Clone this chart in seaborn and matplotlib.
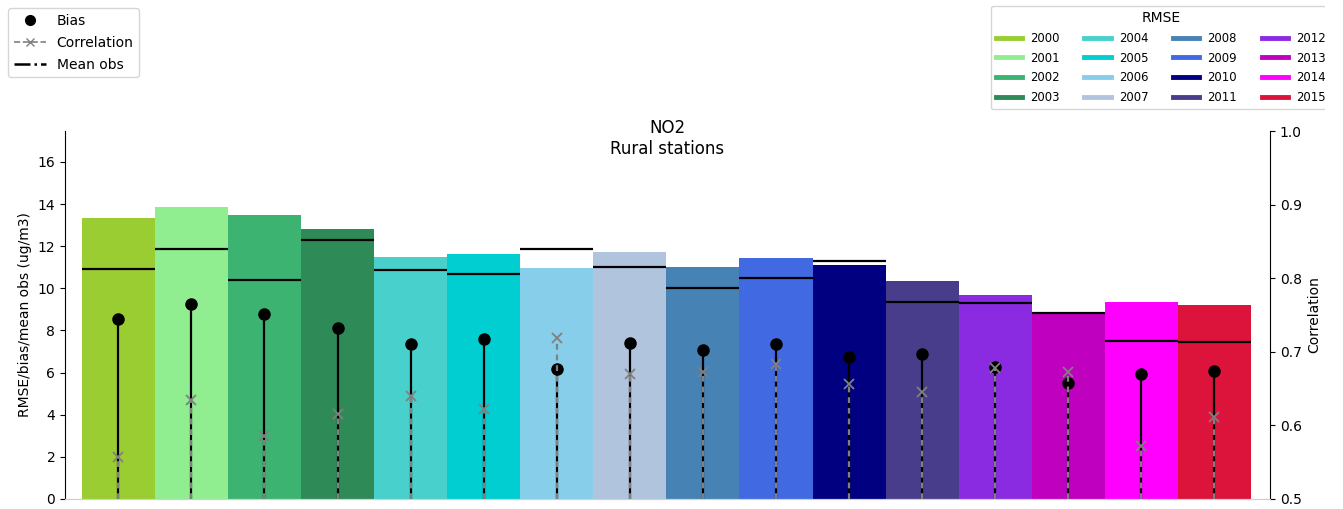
import numpy as np
import pandas as pd
import matplotlib
matplotlib.use("Agg")
import matplotlib.pyplot as plt
from matplotlib.lines import Line2D
from matplotlib.patches import Rectangle
import seaborn as sns

# Annual statistics, NO2 at rural stations
years = ["2000", "2001", "2002", "2003", "2004", "2005", "2006", "2007",
         "2008", "2009", "2010", "2011", "2012", "2013", "2014", "2015"]
rmse = [13.33, 13.84, 13.49, 12.80, 11.50, 11.65, 10.96, 11.74,
        10.99, 11.45, 11.10, 10.36, 9.70, 8.84, 9.36, 9.21]
bias = [8.55, 9.24, 8.80, 8.10, 7.35, 7.61, 6.16, 7.41,
        7.06, 7.36, 6.76, 6.87, 6.25, 5.52, 5.92, 6.06]
mean_obs = [10.91, 11.87, 10.41, 12.31, 10.86, 10.67, 11.87, 11.02,
            10.02, 10.51, 11.32, 9.37, 9.32, 8.82, 7.48, 7.44]
correlation = [0.557, 0.635, 0.585, 0.616, 0.640, 0.622, 0.719, 0.670,
               0.672, 0.683, 0.656, 0.646, 0.678, 0.672, 0.572, 0.612]
year_colors = ["yellowgreen", "lightgreen", "mediumseagreen", "seagreen",
               "mediumturquoise", "darkturquoise", "skyblue", "lightsteelblue",
               "steelblue", "royalblue", "navy", "darkslateblue",
               "blueviolet", "m", "magenta", "crimson"]

df = pd.DataFrame({"year": years, "rmse": rmse, "bias": bias,
                   "mean_obs": mean_obs, "corr": correlation})
pos = np.arange(len(df))

fig = plt.figure(figsize=(13.43, 5.09), dpi=100)
ax = fig.add_axes([65 / 1343, 1 - 499 / 509, (1270 - 65) / 1343, (499 - 131) / 509])

# RMSE bars, one colour per year
sns.barplot(data=df, x="year", y="rmse", hue="year", palette=year_colors,
            width=1.0, linewidth=0, legend=False, ax=ax, saturation=1)

# mean observation per year
ax.hlines(df["mean_obs"], pos - 0.5, pos + 0.5, colors="black", lw=1.6, zorder=3)

# bias stems
ax.vlines(pos, 0, df["bias"], colors="black", lw=1.6, zorder=3)
ax.plot(pos, df["bias"], "o", color="black", ms=8, zorder=4)

ax.set_xlim(-0.73, 15.76)
ax.set_ylim(0, 17.47)
ax.set_yticks([0, 2, 4, 6, 8, 10, 12, 14, 16])
ax.set_xticks([])
ax.set_xlabel("")
ax.set_ylabel("RMSE/bias/mean obs (ug/m3)", fontsize=10)
ax.spines["top"].set_visible(False)
ax.spines["right"].set_visible(False)
ax.spines["bottom"].set_color("#d0d0d0")

# correlation on secondary axis
ax2 = ax.twinx()
ax2.vlines(pos, 0.5, df["corr"], colors="gray", lw=1.6, linestyles=(0, (2.6, 2.2)), zorder=3)
ax2.plot(pos, df["corr"], "x", color="gray", ms=7, mew=1.3, zorder=4)
ax2.set_ylim(0.5, 1.0)
ax2.set_yticks([0.5, 0.6, 0.7, 0.8, 0.9, 1.0])
ax2.set_ylabel("Correlation", fontsize=10)
ax2.spines["top"].set_visible(False)
ax2.spines["left"].set_visible(False)
ax2.spines["bottom"].set_color("#d0d0d0")

ax.text(0.5, 0.98, "NO2\nRural stations", transform=ax.transAxes,
        ha="center", va="center", fontsize=12)

# metric legend (upper left)
metric_handles = [
    Line2D([], [], marker="o", color="black", ls="none", ms=7),
    Line2D([], [], marker="x", color="gray", ls="--", lw=1.2, ms=6),
    Line2D([], [], color="black", ls="-.", lw=1.8),
]
fig.legend(metric_handles, ["Bias", "Correlation", "Mean obs"],
           loc="upper left", bbox_to_anchor=(8 / 1343, 1 - 8 / 509),
           borderaxespad=0, fontsize=10, handlelength=2.3, labelspacing=0.58)

# yearly colour legend (upper right), running off the canvas edge
year_handles = [Line2D([], [], color=c, lw=3.5) for c in year_colors]
fig.legend(year_handles, years, title="RMSE", ncol=4,
           loc="upper left", bbox_to_anchor=(991 / 1343, 1 - 6 / 509),
           borderaxespad=0, fontsize=8.33, title_fontsize=10,
           labelspacing=0.6, handlelength=2.3, handletextpad=0.7,
           columnspacing=2.1)

# blank strip along the right edge of the canvas, above the plot area
fig.patches.append(Rectangle((1325 / 1343, 1 - 118 / 509), 18 / 1343, 118 / 509,
                             transform=fig.transFigure, facecolor="white",
                             edgecolor="none", zorder=10))

fig.savefig("out.png", dpi=100)
